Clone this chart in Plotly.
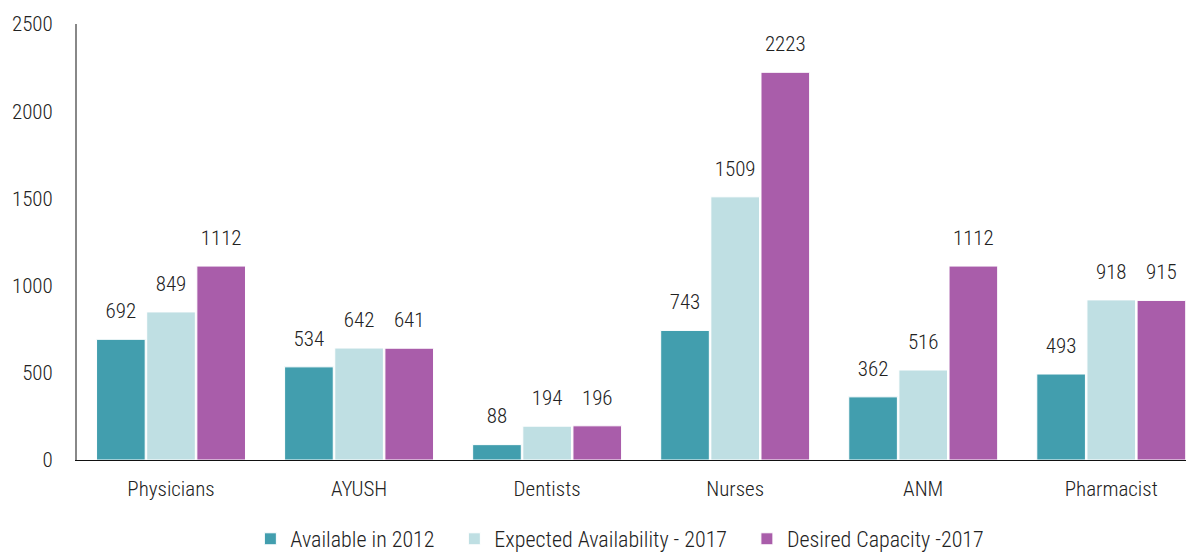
import plotly.graph_objects as go

categories = ["Physicians", "AYUSH", "Dentists", "Nurses", "ANM", "Pharmacist"]
available_2012 = [692, 534, 88, 743, 362, 493]
expected_2017 = [849, 642, 194, 1509, 516, 918]
desired_2017 = [1112, 641, 196, 2223, 1112, 915]
series_names = ["Available in 2012", "Expected Availability - 2017", "Desired Capacity -2017"]
colors = ["#429EAE", "#BFDFE3", "#A95DAA"]

FONT = "Roboto Condensed, Liberation Sans Narrow, DejaVu Sans Condensed, Arial Narrow, sans-serif"
FS = 21
W = 300
PAD = "\u00a0\u00a0\u00a0"

fig = go.Figure()
for i, (name, vals, col) in enumerate(zip(series_names, [available_2012, expected_2017, desired_2017], colors)):
    fig.add_trace(go.Bar(
        x=categories, y=vals, name=name + (PAD if i < 2 else ""),
        offsetgroup=str(i), alignmentgroup="a",
        marker=dict(color=col, line=dict(color="white", width=1)),
    ))
for i, vals in enumerate([available_2012, expected_2017, desired_2017]):
    fig.add_trace(go.Scatter(
        x=categories, y=vals, mode="markers+text",
        offsetgroup=str(i), alignmentgroup="a",
        marker=dict(size=24, opacity=0),
        text=[str(v) for v in vals], textposition="top center",
        textfont=dict(size=FS, color="#222222", family=FONT, weight=W),
        showlegend=False, hoverinfo="skip", cliponaxis=False,
    ))

fig.update_layout(
    width=1186, height=546,
    margin=dict(l=69, r=0, t=16, b=94, autoexpand=False),
    paper_bgcolor="white", plot_bgcolor="white",
    barmode="group", scattermode="group", bargap=0.2, bargroupgap=0.03,
    font=dict(family=FONT, size=FS, color="#222222", weight=W),
    showlegend=True,
    legend=dict(orientation="h", x=0.486, xanchor="center", y=-0.133, yanchor="top",
                font=dict(size=22, family=FONT, weight=W), traceorder="normal"),
)
fig.update_xaxes(range=[-0.5, 5.44], showline=True, linecolor="#111111", linewidth=1,
                 ticks="", showgrid=False, ticklabelstandoff=10,
                 tickfont=dict(size=FS, family=FONT, weight=W))
fig.update_yaxes(range=[0, 2500], dtick=500, showline=True, linecolor="#888888", linewidth=2,
                 showgrid=False, zeroline=False, ticks="", ticklabelstandoff=18,
                 tickfont=dict(size=FS, family=FONT, weight=W))

fig.write_html("out.html")
